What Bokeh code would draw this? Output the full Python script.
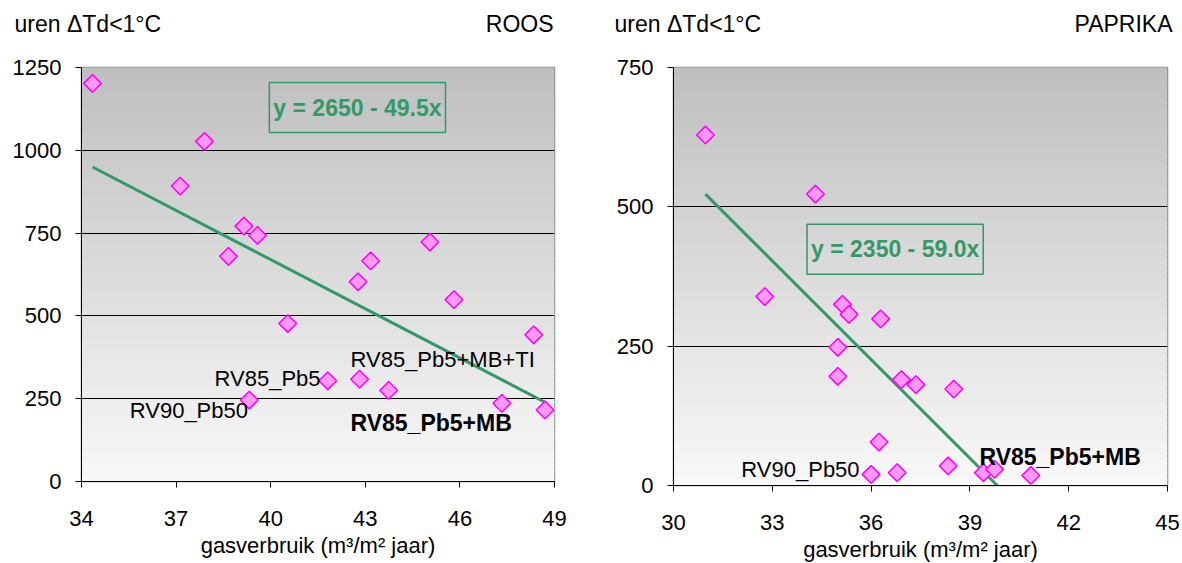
import numpy as np
from bokeh.plotting import figure
from bokeh.layouts import row, column
from bokeh.models import Label, BoxAnnotation, FixedTicker, Range1d
from bokeh.embed import file_html
from bokeh.resources import INLINE

FONT = "Liberation Sans"
GREEN = "#339966"

# ---------------- data ----------------
roos_x = [34.35, 37.90, 37.13, 39.15, 39.58, 38.66, 40.54, 42.77, 43.17,
          45.05, 45.81, 48.34, 41.81, 42.82, 43.74, 39.32, 47.33, 48.70]
roos_y = [1202, 1027, 892, 771, 743, 680, 477, 603, 666,
          723, 549, 443, 304, 309, 275, 246, 236, 216]
roos_fit = (2650.0, -49.5)
roos_eq = "y = 2650 - 49.5x"
roos_xticks = [34, 37, 40, 43, 46, 49]
roos_yticks = [0, 250, 500, 750, 1000, 1250]

paprika_x = [30.97, 34.31, 32.77, 35.13, 35.33, 36.29, 34.99, 34.99, 36.92,
             37.36, 38.51, 36.24, 36.00, 36.79, 38.34, 39.41, 39.75, 40.85]
paprika_y = [629, 523, 339, 325, 307, 299, 248, 196, 190,
             181, 173, 78, 20, 23, 35, 23, 29, 18]
paprika_fit = (2350.0, -59.0)
paprika_eq = "y = 2350 - 59.0x"
paprika_xticks = [30, 33, 36, 39, 42, 45]
paprika_yticks = [0, 250, 500, 750]

y_title = "uren ΔTd<1°C"
x_title = "gasverbruik (m³/m² jaar)"

# annotation placement (text, x, y, bold)
roos_labels = [("RV85_Pb5+MB+TI", 42.53, 368, False),
               ("RV85_Pb5", 38.22, 310, False),
               ("RV90_Pb50", 35.53, 214, False),
               ("RV85_Pb5+MB", 42.53, 177, True)]
paprika_labels = [("RV85_Pb5+MB", 39.29, 52, True),
                  ("RV90_Pb50", 32.06, 28, False)]

HEADER_H = 50


def add_gradient(p, y0, y1, n=80):
    edges = np.linspace(y0, y1, n + 1)
    step = (y1 - y0) / n
    for i in range(n):
        t = (i + 0.5) / n
        c = int(round(248 - (248 - 191) * t))
        p.add_layout(BoxAnnotation(bottom=edges[i], top=edges[i + 1] + step * 0.3,
                                   fill_color=(c, c, c), fill_alpha=1.0,
                                   line_color=None, level="image"))


def make_header(width, crop, left_x, right_x, baseline):
    h = figure(width=width, height=HEADER_H, x_range=Range1d(0, width),
               y_range=Range1d(0, HEADER_H), output_backend="svg",
               toolbar_location=None, x_axis_location=None, y_axis_location=None,
               min_border=0)
    h.grid.visible = False
    h.outline_line_color = None
    h.background_fill_color = "white"
    h.border_fill_color = "white"
    h.add_layout(Label(x=left_x, y=baseline, text=y_title, text_font=FONT,
                       text_font_size="23px", text_baseline="alphabetic",
                       text_align="left", text_color="black"))
    h.add_layout(Label(x=right_x, y=baseline, text=crop, text_font=FONT,
                       text_font_size="23px", text_baseline="alphabetic",
                       text_align="right", text_color="black"))
    return h


def make_panel(xs, ys, fit, eq, eq_pos, xticks, yticks, labels,
               fw, fh, bl, br, bt, bb):
    p = figure(frame_width=fw, frame_height=fh,
               x_range=Range1d(xticks[0], xticks[-1]),
               y_range=Range1d(yticks[0], yticks[-1]),
               output_backend="svg", toolbar_location=None,
               min_border_left=bl, min_border_right=br,
               min_border_top=bt, min_border_bottom=bb)
    p.background_fill_color = "#dddddd"
    p.border_fill_color = "white"
    p.outline_line_color = "#888888"
    p.outline_line_width = 1.5
    add_gradient(p, yticks[0], yticks[-1])

    p.xgrid.visible = False
    p.ygrid.grid_line_color = "black"
    p.ygrid.grid_line_width = 1
    p.xaxis.ticker = FixedTicker(ticks=xticks)
    p.yaxis.ticker = FixedTicker(ticks=yticks)
    for ax in (p.xaxis, p.yaxis):
        ax.minor_tick_line_color = None
        ax.major_tick_in = 0
        ax.major_tick_out = 6
        ax.axis_line_color = "black"
        ax.major_tick_line_color = "black"
        ax.major_label_text_font = FONT
        ax.major_label_text_font_size = "22px"
        ax.major_label_text_color = "black"
    p.xaxis.major_label_standoff = 23
    p.yaxis.major_label_standoff = 14
    p.xaxis.axis_label = x_title
    p.xaxis.axis_label_text_font = FONT
    p.xaxis.axis_label_text_font_size = "22px"
    p.xaxis.axis_label_text_font_style = "normal"
    p.xaxis.axis_label_text_color = "black"
    p.xaxis.axis_label_standoff = 4

    a, b = fit
    lx = [min(xs), max(xs)]
    ly = [a + b * v for v in lx]
    p.line(lx, ly, line_color=GREEN, line_width=3)

    p.scatter(xs, ys, marker="square", angle=np.pi / 4, size=12.5,
              fill_color="#ff99f5", line_color="#ff00ff", line_width=1.5)

    for text, x, y, bold in labels:
        p.add_layout(Label(x=x, y=y, text=text, text_font=FONT,
                           text_font_size="23px" if bold else "22px",
                           text_baseline="middle",
                           text_align="left", text_color="black",
                           text_font_style="bold" if bold else "normal"))

    p.add_layout(Label(x=eq_pos[0], y=eq_pos[1], text=eq, text_font=FONT,
                       text_font_size="23px", text_font_style="bold",
                       text_color=GREEN, text_align="center",
                       text_baseline="middle", border_line_color=GREEN,
                       border_line_width=1.5, padding=(4, 12)))
    return p


h1 = make_header(591, "ROOS", 14, 553, 27)
h2 = make_header(591, "PAPRIKA", 23, 581, 27)
p1 = make_panel(roos_x, roos_y, roos_fit, roos_eq, (42.75, 1129),
                roos_xticks, roos_yticks, roos_labels,
                473, 414, 81, 37, 67 - HEADER_H, 82)
p2 = make_panel(paprika_x, paprika_y, paprika_fit, paprika_eq, (36.73, 424),
                paprika_xticks, paprika_yticks, paprika_labels,
                494, 418, 82, 15, 65 - HEADER_H, 80)

layout = column(row(h1, h2), row(p1, p2))
open("out.html", "w").write(file_html(layout, INLINE))
